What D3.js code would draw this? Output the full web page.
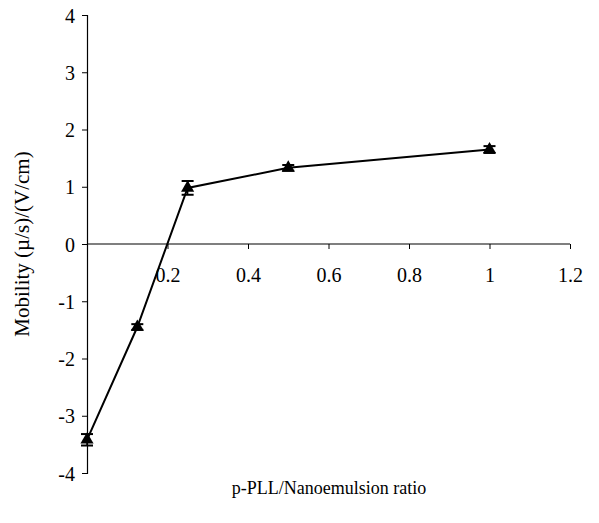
<!DOCTYPE html>
<html>
<head>
<meta charset="utf-8">
<script src="https://cdn.jsdelivr.net/npm/d3@7"></script>
<style>
  body { margin: 0; background: #fff; }
  svg { display: block; }
  text { font-family: "Liberation Serif", "Times New Roman", serif; fill: #000; }
</style>
</head>
<body>
<div id="container"></div>
<script>
// values
let ratios = [0, 0.125, 0.25, 0.5, 1];
let mobility = [-3.42, -1.45, 0.98, 1.33, 1.65];
let errors = [0.1, 0.05, 0.12, 0.05, 0.06];
let xTicks = [0.2, 0.4, 0.6, 0.8, 1, 1.2];
let yTicks = [-4, -3, -2, -1, 0, 1, 2, 3, 4];

let data = ratios.map(function(r, i){
  return {x: r, y: mobility[i], err: errors[i]};
});

let w = 599;
let h = 523;

let viz = d3.select("#container")
  .append("svg")
    .attr("width", w)
    .attr("height", h)
;

let xScale = d3.scaleLinear().domain([0, 1.2]).range([87, 570]);
let yScale = d3.scaleLinear().domain([-4, 4]).range([473, 15]);

// plain hyphen for negatives, like the original
let plain = d => String(d);

// y axis
let yAxis = d3.axisLeft(yScale).tickValues(yTicks).tickSize(5).tickFormat(plain);
let yAxisGroup = viz.append("g").attr("transform", "translate(" + xScale(0) + ",0)").call(yAxis);
yAxisGroup.select(".domain").attr("stroke", "#000").attr("stroke-width", 1.2);
yAxisGroup.selectAll("line").attr("stroke", "#000");
yAxisGroup.selectAll("text")
  .attr("font-size", 20)
  .attr("x", -12)
  .attr("dy", "0.36em")
  .style("font-family", "'Liberation Serif', serif");

// x axis sits on y = 0
let xAxis = d3.axisBottom(xScale).tickValues([0].concat(xTicks)).tickSize(5).tickFormat(function(d){
  return d == 0 ? "" : plain(d);
});
let xAxisGroup = viz.append("g").attr("transform", "translate(0," + yScale(0) + ")").call(xAxis);
xAxisGroup.select(".domain").attr("stroke", "#000").attr("stroke-width", 1.2)
  .attr("d", "M" + xScale(0) + ",0H" + xScale(1.2));
xAxisGroup.selectAll("line").attr("stroke", "#000");
xAxisGroup.selectAll("text")
  .attr("font-size", 20)
  .attr("y", 24)
  .attr("dy", "0.71em")
  .style("font-family", "'Liberation Serif', serif");

// titles
viz.append("text")
  .attr("x", 329)
  .attr("y", 494)
  .attr("text-anchor", "middle")
  .attr("font-size", 18)
  .text("p-PLL/Nanoemulsion ratio");

viz.append("text")
  .attr("transform", "translate(29,244) rotate(-90)")
  .attr("text-anchor", "middle")
  .attr("font-size", 21)
  .text("Mobility (\u00b5/s)/(V/cm)");

// line
let line = d3.line().x(d => xScale(d.x)).y(d => yScale(d.y));
viz.append("path")
  .datum(data)
  .attr("d", line)
  .attr("fill", "none")
  .attr("stroke", "#000")
  .attr("stroke-width", 2);

// error bars
let bars = viz.append("g").selectAll(".err").data(data).enter().append("g").classed("err", true);
bars.append("line")
  .attr("x1", d => xScale(d.x)).attr("x2", d => xScale(d.x))
  .attr("y1", d => yScale(d.y + d.err)).attr("y2", d => yScale(d.y - d.err))
  .attr("stroke", "#000").attr("stroke-width", 1.5);
bars.append("line")
  .attr("x1", d => xScale(d.x) - 6).attr("x2", d => xScale(d.x) + 6)
  .attr("y1", d => yScale(d.y + d.err)).attr("y2", d => yScale(d.y + d.err))
  .attr("stroke", "#000").attr("stroke-width", 2);
bars.append("line")
  .attr("x1", d => xScale(d.x) - 6).attr("x2", d => xScale(d.x) + 6)
  .attr("y1", d => yScale(d.y - d.err)).attr("y2", d => yScale(d.y - d.err))
  .attr("stroke", "#000").attr("stroke-width", 2);

// triangle markers
let tri = d3.symbol().type(d3.symbolTriangle).size(75);
viz.append("g").selectAll(".pt").data(data).enter().append("path")
  .attr("d", tri)
  .attr("transform", d => "translate(" + xScale(d.x) + "," + yScale(d.y) + ")")
  .attr("fill", "#000");
</script>
</body>
</html>
